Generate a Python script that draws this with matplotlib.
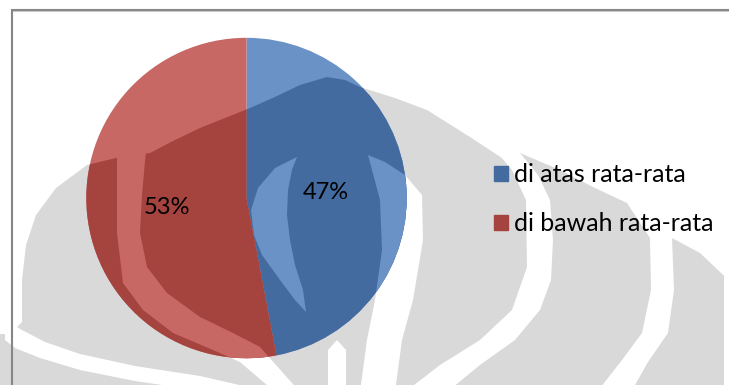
import matplotlib.pyplot as plt
from matplotlib.patches import Polygon, Patch

plt.rcParams['font.family'] = ['Lato', 'DejaVu Sans']

# data
labels = ['di atas rata-rata', 'di bawah rata-rata']
values = [47, 53]
light_colors = ['#6a92c6', '#c86864']
dark_colors = ['#436b9f', '#a5433f']

W, H = 729, 385
fig = plt.figure(figsize=(W / 100, H / 100), dpi=100)

# background layer in pixel units (y pointing down)
bg = fig.add_axes([0, 0, 1, 1])
bg.set_xlim(0, W)
bg.set_ylim(H, 0)
bg.axis('off')

# grey logo in the background: one outline, then white bands cut into it
logo_outline = [(-5, 334), (10, 334), (22, 322), (22, 280), (26, 245), (36, 215),
                (56, 188), (87, 165), (120, 157), (150, 153), (175, 140), (200, 128),
                (225, 118), (250, 108), (275, 97), (300, 85), (327, 77), (345, 80),
                (360, 87), (395, 98), (427, 110), (470, 137), (505, 160), (520, 153),
                (560, 170), (593, 187), (627, 203), (650, 238), (672, 238), (700, 253),
                (720, 272), (740, 290), (740, 395), (-5, 395)]
logo_gaps = [
    # left inner band
    [(117, 150), (117, 195), (117, 233), (123, 283), (143, 310), (173, 333),
     (213, 350), (240, 362), (275, 392), (300, 392), (260, 347), (233, 333),
     (200, 317), (167, 293), (147, 267), (140, 233), (142, 195), (146, 150)],
    # left outer band
    [(5, 320), (22, 330), (45, 342), (80, 354), (135, 366), (200, 376), (270, 392),
     (230, 395), (135, 381), (80, 370), (40, 358), (15, 348), (5, 340)],
    # thorn in the middle
    [(297, 157), (275, 168), (258, 188), (251, 210), (254, 235), (262, 255),
     (280, 280), (295, 300), (306, 312), (303, 290), (295, 265), (290, 240),
     (287, 215), (288, 190), (292, 170)],
    # right inner band
    [(368, 155), (380, 200), (382, 250), (375, 300), (367, 340), (360, 392),
     (395, 392), (402, 340), (413, 300), (423, 240), (422, 195), (405, 175),
     (385, 162)],
    # stripe under the pie
    [(328, 392), (328, 350), (337, 340), (346, 350), (346, 392)],
    # second band
    [(495, 150), (512, 170), (526, 200), (527, 267), (512, 310), (480, 340),
     (440, 365), (405, 392), (447, 392), (480, 365), (515, 340), (540, 310),
     (551, 280), (553, 240), (550, 200), (538, 175), (520, 153), (510, 140)],
    # third band
    [(650, 220), (650, 238), (651, 290), (642, 333), (622, 360), (597, 392),
     (631, 392), (648, 362), (668, 333), (674, 290), (672, 238), (672, 220)],
    # right edge
    [(724, 200), (745, 200), (745, 395), (724, 395)],
]

bg.add_patch(Polygon(logo_outline, closed=True, fc='#d9d9d9', ec='none'))
for pts in logo_gaps:
    bg.add_patch(Polygon(pts, closed=True, fc='white', ec='none'))

# frame lines
bg.plot([12, W], [9.5, 9.5], color='#868686', lw=1.5, solid_capstyle='butt')
bg.plot([12, W], [11, 11], color='#c8c8c8', lw=0.8, solid_capstyle='butt')
bg.plot([12.5, 12.5], [9, H], color='#868686', lw=1.5, solid_capstyle='butt')

# pie axes, centre (246.5, 198) px, radius 161 px
cx, cy, r = 246.5, 198, 161
ax = fig.add_axes([(cx - r) / W, (H - cy - r) / H, 2 * r / W, 2 * r / H])
ax.axis('off')

pie_kw = dict(startangle=90, counterclock=False, radius=1,
              wedgeprops=dict(linewidth=0))

wedges, texts, autotexts = ax.pie(values, colors=light_colors, autopct='%1.0f%%',
                                  pctdistance=0.5,
                                  textprops=dict(fontsize=17, color='black',
                                                 va='center_baseline'),
                                  **pie_kw)

# darker shading where the logo passes under the pie
clip_outline = Polygon(logo_outline, closed=True, transform=bg.transData)
dark_wedges, _ = ax.pie(values, colors=dark_colors, **pie_kw)
for w in dark_wedges:
    w.set_clip_on(True)
    w.set_clip_path(clip_outline)
for pts in logo_gaps:
    gap = Polygon(pts, closed=True, transform=bg.transData)
    gap_wedges, _ = ax.pie(values, colors=light_colors, **pie_kw)
    for w in gap_wedges:
        w.set_clip_on(True)
        w.set_clip_path(gap)

for t in autotexts:
    t.set_zorder(5)

ax.set_xlim(-1.005, 1.005)
ax.set_ylim(-1.005, 1.005)

handles = [Patch(color=c) for c in dark_colors]
fig.legend(handles, labels, loc='upper left', bbox_to_anchor=(494 / W, 1 - 163 / H),
           frameon=False, fontsize=18, handlelength=0.55, handleheight=0.55,
           handletextpad=0.25, labelspacing=1.05, borderpad=0, borderaxespad=0)

fig.savefig('out.png', dpi=100)
